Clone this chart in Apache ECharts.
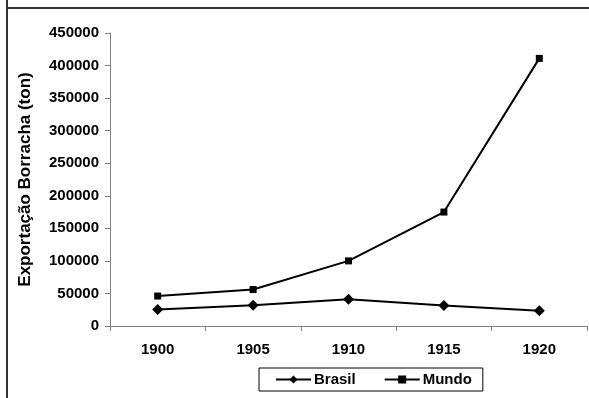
<!DOCTYPE html>
<html>
<head>
<meta charset="utf-8">
<script src="https://cdn.jsdelivr.net/npm/echarts@6/dist/echarts.min.js"></script>
<style>
html,body{margin:0;padding:0;background:#fff;}
#chart{width:589px;height:398px;}
</style>
</head>
<body>
<div id="chart"></div>
<script>
const categories = ['1900', '1905', '1910', '1915', '1920'];
const brasil = [25500, 32000, 41000, 31500, 23500];
const mundo = [46000, 56000, 100000, 175000, 411000];
const yTicks = { min: 0, max: 450000, interval: 50000 };

const chart = echarts.init(document.getElementById('chart'), null, { renderer: 'canvas' });
const font = 'Liberation Sans, Arial, sans-serif';
chart.setOption({
  animation: false,
  backgroundColor: '#fff',
  grid: { left: 110, right: 2, top: 33, bottom: 72, containLabel: false },
  graphic: [
    { type: 'line', shape: { x1: 7, y1: 0, x2: 7, y2: 398 }, style: { stroke: '#333', lineWidth: 2 } },
    { type: 'line', shape: { x1: 6, y1: 8, x2: 589, y2: 8 }, style: { stroke: '#333', lineWidth: 2 } }
  ],
  legend: {
    left: 259, top: 368,
    itemWidth: 35, itemHeight: 10,
    itemGap: 28,
    padding: [4, 11, 4, 16],
    borderColor: '#000', borderWidth: 1,
    textStyle: { fontFamily: font, fontWeight: 'bold', fontSize: 15, color: '#000', padding: [0, 0, 0, -2] },
    data: ['Brasil', 'Mundo']
  },
  xAxis: {
    type: 'category',
    data: categories,
    boundaryGap: true,
    axisLine: { lineStyle: { color: '#808080', width: 1 } },
    axisTick: { show: true, length: 5, lineStyle: { color: '#808080' } },
    axisLabel: { fontFamily: font, fontWeight: 'bold', fontSize: 15, color: '#000', margin: 16 },
    splitLine: { show: false }
  },
  yAxis: {
    type: 'value',
    min: yTicks.min, max: yTicks.max, interval: yTicks.interval,
    name: 'Exportação Borracha (ton)',
    nameLocation: 'middle',
    nameGap: 76,
    nameTextStyle: { fontFamily: font, fontWeight: 'bold', fontSize: 17, color: '#000' },
    axisLine: { show: true, lineStyle: { color: '#808080', width: 1 } },
    axisTick: { show: true, length: 5, lineStyle: { color: '#808080' } },
    axisLabel: { fontFamily: font, fontWeight: 'bold', fontSize: 15, color: '#000', margin: 11,
      formatter: function (v) { return String(v); } },
    splitLine: { show: false }
  },
  series: [
    {
      name: 'Brasil', type: 'line', data: brasil,
      symbol: 'diamond', symbolSize: 11,
      lineStyle: { color: '#000', width: 2 },
      itemStyle: { color: '#000' }
    },
    {
      name: 'Mundo', type: 'line', data: mundo,
      symbol: 'rect', symbolSize: 7,
      lineStyle: { color: '#000', width: 2 },
      itemStyle: { color: '#000' }
    }
  ]
});
</script>
</body>
</html>
